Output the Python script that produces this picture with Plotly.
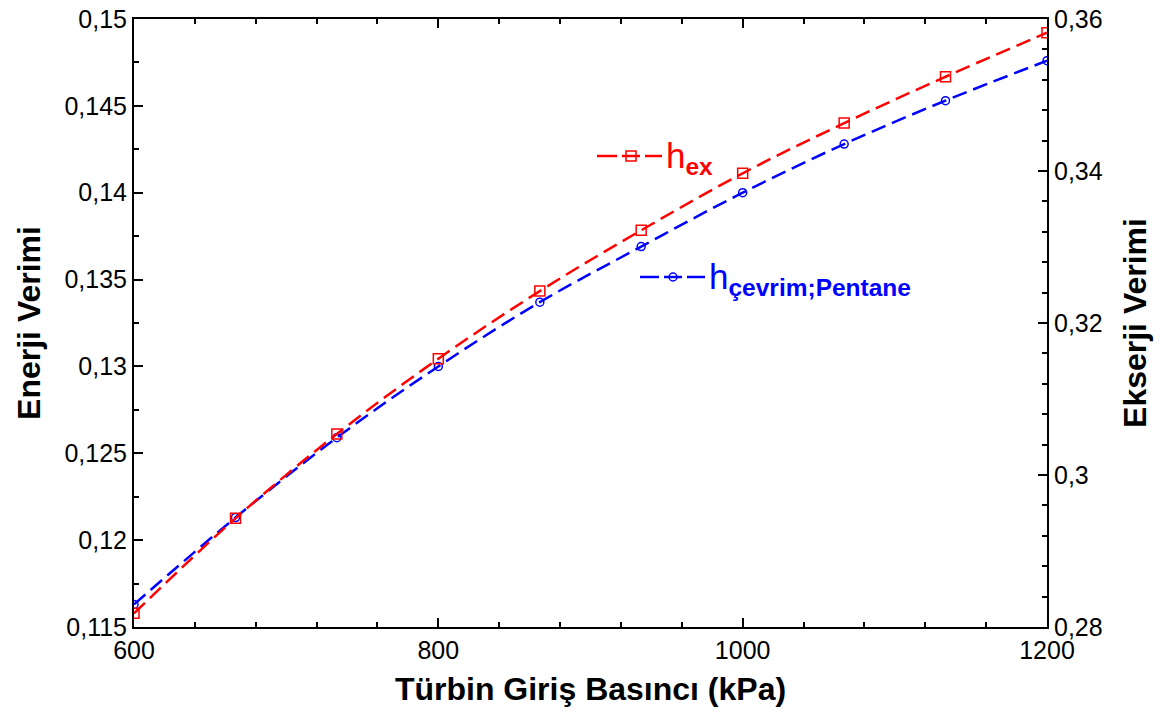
import plotly.graph_objects as go

# ---- data ----
pressure_kpa = [600, 666.7, 733.3, 800, 866.7, 933.3, 1000, 1066.7, 1133.3, 1200]
exergy_eff = [0.2818, 0.2943, 0.3054, 0.3153, 0.3242, 0.3322, 0.3397, 0.3463, 0.3524, 0.3582]
energy_eff = [0.1163, 0.1213, 0.1259, 0.1300, 0.1337, 0.1369, 0.1400, 0.1428, 0.1453, 0.1476]

x_ticks = [600, 800, 1000, 1200]
left_ticks = [0.115, 0.12, 0.125, 0.13, 0.135, 0.14, 0.145, 0.15]
right_ticks = [0.28, 0.30, 0.32, 0.34, 0.36]

RED = "#FF0000"
BLUE = "#0000FF"
FONT = "Liberation Sans, Arial, sans-serif"

W, H = 1169, 717
L, R, T, B = 134, 1047, 19, 627


def px(xp):
    return (xp - L) / (R - L)


def py(yp):
    return (B - yp) / (B - T)


fig = go.Figure()

fig.add_trace(go.Scatter(
    x=pressure_kpa, y=energy_eff, yaxis="y", mode="lines+markers",
    line=dict(color=BLUE, width=2.5, dash="15px,7px", shape="spline"),
    marker=dict(symbol="circle-open", size=8, color=BLUE, line=dict(width=1.5, color=BLUE)),
    showlegend=False, name="h çevrim;Pentane",
))
fig.add_trace(go.Scatter(
    x=pressure_kpa, y=exergy_eff, yaxis="y2", mode="lines+markers",
    line=dict(color=RED, width=2.5, dash="15px,7px", shape="spline"),
    marker=dict(symbol="square-open", size=10, color=RED, line=dict(width=1.5, color=RED)),
    showlegend=False, name="h ex",
))

axis_common = dict(
    showline=True, linecolor="black", linewidth=2,
    ticks="inside", ticklen=9, tickwidth=1.5, tickcolor="black",
    showgrid=False, zeroline=False,
    tickfont=dict(family=FONT, size=25, color="black"),
)

fig.update_layout(
    width=W, height=H,
    margin=dict(l=L, r=W - R, t=T, b=H - B, autoexpand=False),
    paper_bgcolor="white", plot_bgcolor="white",
    separators=",.",
    font=dict(family=FONT, color="black"),
    xaxis=dict(
        range=[600, 1200], tickvals=x_ticks, mirror="ticks",
        minor=dict(dtick=40, tick0=600, ticks="inside", ticklen=5, tickwidth=1.5, tickcolor="black"),
        title=dict(text="<b>Türbin Giriş Basıncı (kPa)</b>", font=dict(family=FONT, size=32, color="black"), standoff=15),
        **axis_common,
    ),
    yaxis=dict(
        range=[0.115, 0.15], tickvals=left_ticks,
        minor=dict(dtick=0.0025, tick0=0.115, ticks="inside", ticklen=5, tickwidth=1.5, tickcolor="black"),
        title=dict(text="<b>Enerji Verimi</b>", font=dict(family=FONT, size=32, color="black"), standoff=14),
        **axis_common,
    ),
    yaxis2=dict(
        range=[0.28, 0.36], tickvals=right_ticks, overlaying="y", side="right",
        minor=dict(dtick=0.004, tick0=0.28, ticks="inside", ticklen=5, tickwidth=1.5, tickcolor="black"),
        title=dict(text="<b>Ekserji Verimi</b>", font=dict(family=FONT, size=32, color="black"), standoff=22),
        **axis_common,
    ),
)

# ---- inline legends (paper coordinates) ----
def legend_entry(x0, x1, xm, yc, color, symbol, text, text_x):
    for a, b in [(x0, xm - 14), (xm - 9, xm + 9), (xm + 14, x1)]:
        fig.add_shape(type="line", xref="paper", yref="paper",
                      x0=px(a), x1=px(b), y0=py(yc), y1=py(yc),
                      line=dict(color=color, width=2.5))
    fig.add_trace(go.Scatter(
        x=[px(xm)], y=[py(yc)], xaxis="x2", yaxis="y3", mode="markers",
        marker=dict(symbol=symbol, size=10 if "square" in symbol else 8, color="white",
                    line=dict(width=1.5, color=color)),
        showlegend=False, hoverinfo="skip",
    ))
    fig.add_annotation(xref="paper", yref="paper", x=px(text_x), y=py(yc + 2),
                       xanchor="left", yanchor="middle", showarrow=False,
                       text=text, font=dict(family=FONT, size=35, color=color))


fig.update_layout(
    xaxis2=dict(range=[0, 1], overlaying="x", visible=False, fixedrange=True),
    yaxis3=dict(range=[0, 1], overlaying="y", visible=False, fixedrange=True),
)

legend_entry(597, 662, 631, 156, RED, "square", "h<sub><b>ex</b></sub>", 664)
legend_entry(640, 705, 673, 277, BLUE, "circle", "h<sub><b>çevrim;Pentane</b></sub>", 707)

fig.write_html("out.html")
